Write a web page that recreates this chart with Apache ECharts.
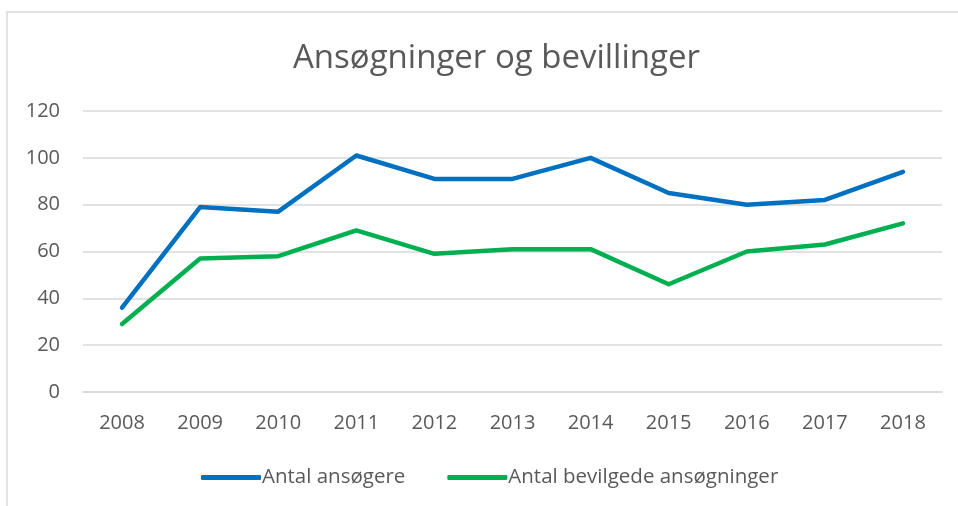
<!DOCTYPE html>
<html>
<head>
<meta charset="utf-8">
<script src="https://cdn.jsdelivr.net/npm/echarts@6/dist/echarts.min.js"></script>
<style>
html,body{margin:0;padding:0;background:#fff;}
#chart{width:958px;height:506px;}
</style>
</head>
<body>
<div id="chart"></div>
<script>
var titleText = 'Ansøgninger og bevillinger';
var years = ['2008','2009','2010','2011','2012','2013','2014','2015','2016','2017','2018'];
var seriesNames = ['Antal ansøgere', 'Antal bevilgede ansøgninger'];
var applicants = [36, 79, 77, 101, 91, 91, 100, 85, 80, 82, 94];
var granted = [29, 57, 58, 69, 59, 61, 61, 46, 60, 63, 72];

var chart = echarts.init(document.getElementById('chart'));
var font = '"Open Sans", sans-serif';
chart.setOption({
  animation: false,
  backgroundColor: '#ffffff',
  graphic: [{
    type: 'rect',
    shape: { x: 7, y: 12, width: 960, height: 510 },
    style: { fill: 'none', stroke: '#d9d9d9', lineWidth: 1.5 },
    silent: true
  }],
  title: {
    text: titleText,
    left: 288,
    top: 37,
    textStyle: { fontFamily: font, fontSize: 33, fontWeight: 'normal', color: '#595959' }
  },
  legend: {
    left: 196,
    top: 462,
    itemWidth: 60,
    itemHeight: 5,
    itemGap: 42,
    icon: 'roundRect',
    textStyle: { fontFamily: font, fontSize: 20.5, color: '#595959', padding: [0,0,0,-4] },
    data: seriesNames
  },
  grid: { left: 83, right: 16, top: 111, bottom: 114, containLabel: false },
  xAxis: {
    type: 'category',
    data: years,
    boundaryGap: true,
    axisLine: { show: true, lineStyle: { color: '#d9d9d9', width: 1.5 } },
    axisTick: { show: false },
    axisLabel: { fontFamily: font, fontSize: 20, color: '#595959', margin: 21 }
  },
  yAxis: {
    type: 'value',
    min: 0, max: 120, interval: 20,
    axisLine: { show: false },
    axisTick: { show: false },
    splitLine: { lineStyle: { color: '#d9d9d9', width: 1.5 } },
    axisLabel: { fontFamily: font, fontSize: 20, color: '#595959', margin: 23 }
  },
  series: [
    { name: seriesNames[0], type: 'line', data: applicants, showSymbol: false, symbol: 'none',
      lineStyle: { color: '#0070C0', width: 4.5, cap: 'round', join: 'round' }, itemStyle: { color: '#0070C0' } },
    { name: seriesNames[1], type: 'line', data: granted, showSymbol: false, symbol: 'none',
      lineStyle: { color: '#00B050', width: 4.5, cap: 'round', join: 'round' }, itemStyle: { color: '#00B050' } }
  ]
});
</script>
</body>
</html>
